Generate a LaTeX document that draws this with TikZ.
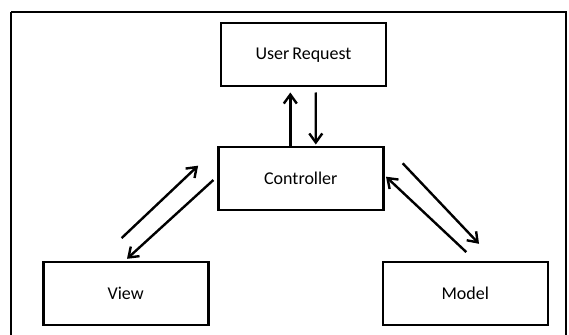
\documentclass[tikz,border=0pt]{standalone}
\usepackage{fontspec}
\setmainfont{Carlito}
\usetikzlibrary{arrows.meta}

\tikzset{
  block/.style={draw, line width=2.6pt, minimum width=165pt, minimum height=63pt,
    inner sep=0pt, font=\fontsize{18}{20}\selectfont},
  flow/.style={line width=2.4pt, -{Straight Barb[length=9pt, width=13pt, line width=2.4pt]}}
}

\begin{document}
\begin{tikzpicture}[x=1pt, y=-1pt]
    \useasboundingbox (0,0) rectangle (569,334);

    % Outer frame
    \draw[line width=2.4pt] (11,12) -- (566,12) -- (566,345) (11,345) -- (11,12);

    % Blocks
    \node[block] (req) at (303.5,54.7) {User\,Request};
    \node[block] (ctrl) at (300.8,178.3) {Controller};
    \node[block] (view) at (125.7,293.3) {View};
    \node[block] (model) at (465.3,293.3) {Model};

    % Controller <-> User Request
    \draw[flow] ([xshift=-10.5pt]ctrl.north) -- ([xshift=-13.2pt, yshift=-5pt]req.south);
    \draw[flow] ([xshift=12.2pt, yshift=-5pt]req.south) -- ([xshift=15pt, yshift=1pt]ctrl.north);

    % Controller <-> View
    \draw[flow] ([shift={(-4.1,-22.4)}]view.north) -- ([shift={(-18.9,-12.6)}]ctrl.west);
    \draw[flow] ([shift={(-3.6,1.7)}]ctrl.west) -- ([shift={(1.3,-1.7)}]view.north);

    % Controller <-> Model
    \draw[flow] ([shift={(18.1,-15)}]ctrl.east) -- ([shift={(13.7,-16.7)}]model.north);
    \draw[flow] ([shift={(1,-8.4)}]model.north) -- ([shift={(1.4,-1.6)}]ctrl.east);
\end{tikzpicture}
\end{document}
